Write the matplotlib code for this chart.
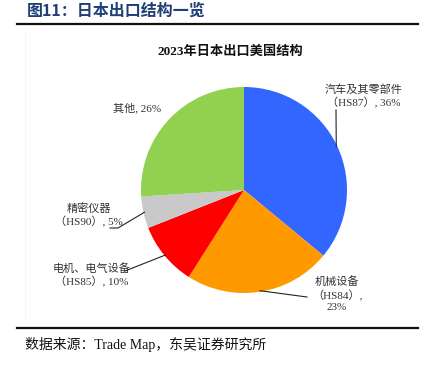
import matplotlib
matplotlib.use("Agg")
import matplotlib.pyplot as plt
import numpy as np

plt.rcParams["font.family"] = ["Liberation Serif", "Noto Sans CJK SC", "DejaVu Sans"]

W, H = 430, 365

categories = ["汽车及其零部件\n（HS87）, 36%", "机械设备\n（HS84）,\n23%",
              "电机、电气设备\n（HS85）, 10%", "精密仪器\n（HS90）, 5%", "其他, 26%"]
shares = [36, 23, 10, 5, 26]
colors = ["#3366FF", "#FF9900", "#FF0000", "#C9C9C9", "#92D050"]

# label centre (px) and leader end (px) per slice; None = no leader
label_pos = [(364, 96), (337, 294), (92, 275), (89, 215), (137, 108)]
leader_end = [[(336, 110)], [(307, 297)], [(125, 271)], [(118, 228), (110, 228)], None]

fig = plt.figure(figsize=(W / 100, H / 100), dpi=100)

CX, CY, R = 244, 190, 103


def px(x, y):
    return x / W, 1 - y / H


# pie axes
ax = fig.add_axes([(CX - R) / W, 1 - (CY + R) / H, 2 * R / W, 2 * R / H])
wedges, _ = ax.pie(shares, colors=colors, startangle=90, counterclock=False,
                   radius=1.0, wedgeprops=dict(linewidth=0))
ax.set_xlim(-1, 1)
ax.set_ylim(-1, 1)
ax.set_aspect("equal")
ax.axis("off")


def to_data(x, y):
    return (x - CX) / R, (CY - y) / R


for w, lab, pos, end in zip(wedges, categories, label_pos, leader_end):
    mid = np.deg2rad((w.theta1 + w.theta2) / 2)
    if end is not None:
        pts = [(np.cos(mid) * 0.99, np.sin(mid) * 0.99)] + [to_data(*p) for p in end]
        xs, ys = zip(*pts)
        ax.plot(xs, ys, color="#222222", lw=0.8, clip_on=False)
    fig.text(*px(*pos), lab, ha="center", va="center", fontsize=8,
             color="#333333", linespacing=1.25)

# header
fig.text(*px(27, 11), "图11：日本出口结构一览", ha="left", va="center",
         fontsize=11.5, fontweight="bold", color="#1F3F77",
         family=["Noto Sans CJK SC", "DejaVu Sans"])
fig.add_artist(plt.Line2D([17 / W, 418 / W], [1 - 24 / H] * 2, color="#111111", lw=1.6))

fig.text(*px(230, 52), "2023年日本出口美国结构", ha="center", va="center",
         fontsize=9.5, fontweight="bold", color="#111111")

# faint left edge of the chart frame
fig.add_artist(plt.Line2D([25 / W, 25 / W], [1 - 32 / H, 1 - 320 / H],
                          color="#F2F2F2", lw=0.6))

fig.add_artist(plt.Line2D([17 / W, 418 / W], [1 - 328 / H] * 2, color="#111111", lw=1.6))
fig.text(*px(25, 345), "数据来源：Trade Map，东吴证券研究所", ha="left", va="center",
         fontsize=10, color="#111111")

fig.savefig("out.png", dpi=100, facecolor="white")
